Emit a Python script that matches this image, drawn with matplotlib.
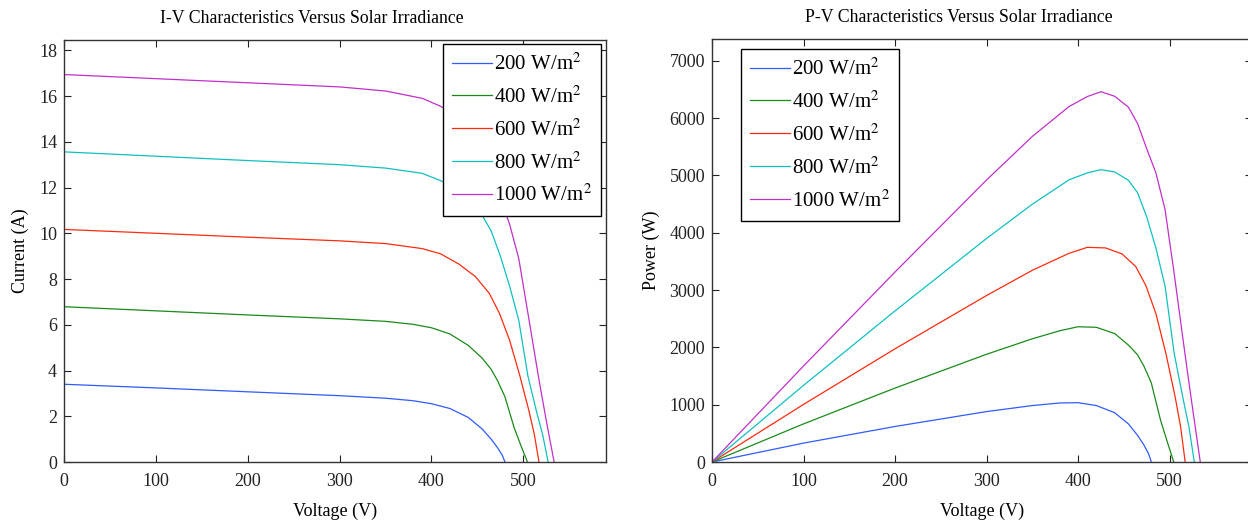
import matplotlib
matplotlib.use('Agg')
import matplotlib.pyplot as plt

plt.rcParams['font.family'] = ['Liberation Serif', 'DejaVu Serif']
plt.rcParams['mathtext.fontset'] = 'stix'

labels = ['200 W/m$^2$', '400 W/m$^2$', '600 W/m$^2$', '800 W/m$^2$', '1000 W/m$^2$']
colors = ['#2f5bff', '#1a8a1a', '#ff2a10', '#10c0c0', '#c030c8']

# voltage samples for each irradiance curve (V)
v_200 = [0, 100, 200, 300, 350, 380, 400, 420, 440, 455, 465, 472, 477, 480]
v_400 = [0, 100, 200, 300, 350, 380, 400, 420, 440, 455, 465, 472, 480, 490, 498, 504.5]
v_600 = [0, 100, 200, 300, 350, 390, 410, 430, 448, 463, 474, 485, 496, 506, 512, 517]
v_800 = [0, 100, 200, 300, 350, 390, 410, 425, 440, 455, 465, 475, 485, 495, 505, 515, 521, 527]
v_1000 = [0, 100, 200, 300, 350, 390, 410, 425, 440, 455, 465, 475, 485, 495, 505, 517, 525, 533.5]

# current (A)
i_200 = [3.40, 3.24, 3.07, 2.90, 2.79, 2.68, 2.55, 2.34, 1.95, 1.45, 1.00, 0.62, 0.30, 0]
i_400 = [6.79, 6.61, 6.43, 6.26, 6.15, 6.02, 5.87, 5.60, 5.10, 4.55, 4.05, 3.55, 2.85, 1.50, 0.65, 0]
i_600 = [10.17, 10.0, 9.83, 9.67, 9.55, 9.33, 9.10, 8.65, 8.10, 7.37, 6.50, 5.33, 3.80, 2.25, 1.2, 0]
i_800 = [13.56, 13.37, 13.18, 13.0, 12.85, 12.62, 12.30, 12.0, 11.5, 10.8, 10.1, 9.0, 7.7, 6.2, 3.75, 2.1, 1.2, 0]
i_1000 = [16.94, 16.76, 16.58, 16.40, 16.22, 15.90, 15.55, 15.2, 14.5, 13.6, 12.7, 11.5, 10.4, 8.9, 6.5, 3.6, 1.8, 0]

# power (W)
p_200 = [0, 330, 620, 880, 985, 1030, 1035, 985, 860, 665, 465, 295, 145, 0]
p_400 = [0, 665, 1290, 1880, 2150, 2290, 2360, 2350, 2240, 2040, 1870, 1670, 1380, 735, 325, 0]
p_600 = [0, 1005, 1975, 2905, 3345, 3640, 3745, 3735, 3630, 3410, 3080, 2590, 1890, 1140, 615, 0]
p_800 = [0, 1337, 2636, 3900, 4498, 4922, 5043, 5100, 5060, 4914, 4697, 4275, 3735, 3069, 1895, 1080, 625, 0]
p_1000 = [0, 1675, 3315, 4920, 5680, 6200, 6375, 6460, 6380, 6190, 5905, 5465, 5045, 4405, 3285, 1860, 945, 0]

volts = [v_200, v_400, v_600, v_800, v_1000]
currents = [i_200, i_400, i_600, i_800, i_1000]
powers = [p_200, p_400, p_600, p_800, p_1000]

fig = plt.figure(figsize=(12.48, 5.21), dpi=100)
ax1 = fig.add_axes([0.0513, 0.1132, 0.4343, 0.81])
ax2 = fig.add_axes([0.5705, 0.1132, 0.4327, 0.812])

for v, i, c, lab in zip(volts, currents, colors, labels):
    ax1.plot(v, i, color=c, lw=0.9, label=lab)
for v, p, c, lab in zip(volts, powers, colors, labels):
    ax2.plot(v, p, color=c, lw=0.9, label=lab)

ax1.set_xlim(0, 590)
ax1.set_ylim(0, 18.45)
ax1.set_xticks(range(0, 600, 100))
ax1.set_yticks(range(0, 19, 2))
ax2.set_xlim(0, 590)
ax2.set_ylim(0, 7380)
ax2.set_xticks(range(0, 600, 100))
ax2.set_yticks(range(0, 7001, 1000))

ax1.set_title('I-V Characteristics Versus Solar Irradiance', fontsize=12.8, pad=12, x=0.458)
ax2.set_title('P-V Characteristics Versus Solar Irradiance', fontsize=12.8, pad=12, x=0.458)
ax1.set_xlabel('Voltage (V)', fontsize=13, labelpad=9)
ax1.set_ylabel('Current (A)', fontsize=13, labelpad=7)
ax2.set_xlabel('Voltage (V)', fontsize=13, labelpad=9)
ax2.set_ylabel('Power (W)', fontsize=13, labelpad=7)

for ax in (ax1, ax2):
    ax.tick_params(direction='in', top=True, right=True, length=5, width=0.8,
                   labelsize=13, colors='#222222')
    ax.tick_params(axis='x', pad=8)
    ax.tick_params(axis='y', pad=5)
    for s in ax.spines.values():
        s.set_linewidth(1.0)
        s.set_color('#333333')

leg_kw = dict(fontsize=15, frameon=True, fancybox=False, framealpha=1,
              edgecolor='black', handlelength=1.9, handletextpad=0.1,
              labelspacing=0.55, borderpad=0.45, borderaxespad=0)
l1 = ax1.legend(loc='upper right', bbox_to_anchor=(0.991, 0.9905), **leg_kw)
l2 = ax2.legend(loc='upper left', bbox_to_anchor=(0.0537, 0.976), **leg_kw)
for l in (l1, l2):
    l.get_frame().set_linewidth(1.0)

fig.savefig('out.png', dpi=100)
